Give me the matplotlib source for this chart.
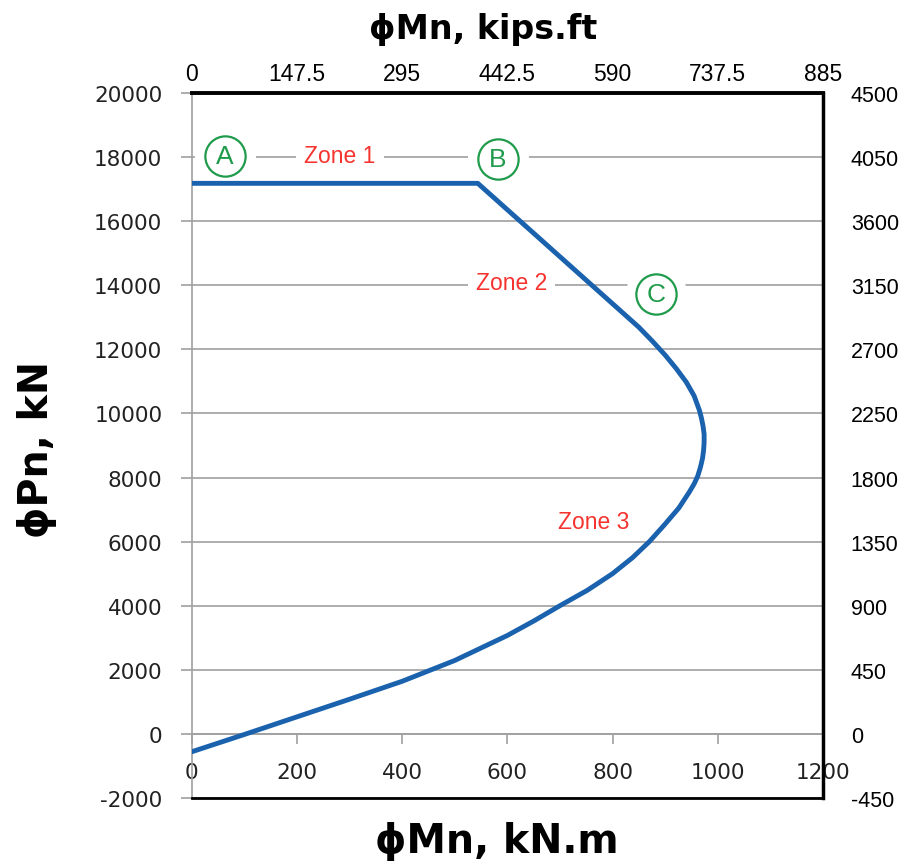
import numpy as np
import matplotlib.pyplot as plt

plt.rcParams['axes.unicode_minus'] = False

# interaction diagram, phiMn (kN.m) vs phiPn (kN)
mn_knm = [0, 544, 850, 876, 900, 921, 940, 955, 965, 969, 972, 974, 974, 973,
          971, 967, 962, 955, 946, 926, 900, 870, 838, 800, 752, 700, 650,
          600, 500, 400, 300, 200, 100, 0]
pn_kn = [17180, 17180, 12690, 12250, 11820, 11400, 10980, 10550, 10100, 9850,
         9600, 9350, 9100, 8850, 8600, 8320, 8050, 7800, 7550, 7050, 6550,
         6000, 5500, 5000, 4480, 4000, 3520, 3070, 2290, 1640, 1080, 530,
         -20, -560]

# point markers A, B, C
point_names = ['A', 'B', 'C']
point_x = [63, 582, 883]
point_y = [18040, 17940, 13730]

zone_names = ['Zone 1', 'Zone 2', 'Zone 3']
zone_x = [282, 608, 764]
zone_y = [18040, 14100, 6615]

x_ticks = [0, 200, 400, 600, 800, 1000, 1200]
y_ticks = list(range(-2000, 20001, 2000))
top_ticks = [0, 147.5, 295, 442.5, 590, 737.5, 885]
top_labels = ['0', '147.5', '295', '442.5', '590', '737.5', '885']
right_ticks = list(range(-450, 4501, 450))

blue = '#1a62ad'
green = '#1f9b4b'
red = '#f5332f'
grey = '#a0a0a0'

fig = plt.figure(figsize=(9, 8.62), dpi=100)
ax = fig.add_axes([0.2128, 0.0731, 0.7017, 0.8179])
ax.set_xlim(0, 1200)
ax.set_ylim(-2000, 20000)

ax.plot(mn_knm, pn_kn, color=blue, lw=3.5, solid_joinstyle='round', zorder=4)

ax.set_yticks(y_ticks)
ax.set_xticks(x_ticks)
ax.yaxis.grid(True, color=grey, lw=1.2)
ax.spines['top'].set_visible(False)
ax.spines['right'].set_visible(False)
ax.spines['left'].set_color(grey)
ax.spines['left'].set_linewidth(1.2)
ax.spines['bottom'].set_position(('data', 0))
ax.spines['bottom'].set_color(grey)
ax.spines['bottom'].set_linewidth(1.2)
ax.tick_params(axis='x', direction='out', length=7, width=1.2, color=grey,
               pad=13, labelsize=15.5, labelcolor='#222222')
ax.tick_params(axis='y', direction='out', length=8, width=1.2, color=grey,
               pad=13, labelsize=15.5, labelcolor='#222222')

# halos and circles for the points
ax.plot(point_x, point_y, 'o', ms=44, mfc='white', mec='none', ls='none', zorder=3)
ax.plot(point_x, point_y, 'o', ms=29, mfc='white', mec=green, mew=1.6,
        ls='none', zorder=5)
for name, px, py in zip(point_names, point_x, point_y):
    ax.text(px, py, name, ha='center', va='center', fontsize=19, color=green,
            family='Liberation Sans', zorder=6)

for name, zx, zy in zip(zone_names, zone_x, zone_y):
    ax.text(zx, zy, name, ha='center', va='center', fontsize=16.5, color=red,
            family='Liberation Sans', zorder=3,
            bbox=dict(boxstyle='square,pad=0.35', fc='white', ec='none'))

# right axis in kips
axr = ax.twinx()
axr.set_ylim(-450, 4500)
axr.set_yticks(right_ticks)
for s in ['left', 'top', 'bottom']:
    axr.spines[s].set_visible(False)
axr.spines['right'].set_color('black')
axr.spines['right'].set_linewidth(2.5)
axr.tick_params(axis='y', length=0, pad=20, labelsize=15.5)
for lab in axr.get_yticklabels():
    lab.set_family('Liberation Sans')

# top axis in kips.ft
axt = ax.twiny()
axt.set_xlim(0, 885)
axt.set_xticks(top_ticks)
axt.set_xticklabels(top_labels, family='Liberation Sans', fontsize=16.5)
for s in ['left', 'right']:
    axt.spines[s].set_visible(False)
axt.spines['top'].set_color('black')
axt.spines['top'].set_linewidth(2.8)
axt.spines['bottom'].set_color('black')
axt.spines['bottom'].set_linewidth(2)
axt.tick_params(axis='x', length=0, pad=6)

fig.text(497 / 900, 1 - 842 / 862, 'ϕMn, kN.m', ha='center', va='center',
         fontsize=28.5, fontweight='bold')
fig.text(483 / 900, 1 - 30 / 862, 'ϕMn, kips.ft', ha='center', va='center',
         fontsize=24, fontweight='bold')
fig.text(37 / 900, 1 - 450 / 862, 'ϕPn, kN', ha='center', va='center',
         rotation=90, fontsize=28.5, fontweight='bold')

fig.savefig('out.png', dpi=100)
